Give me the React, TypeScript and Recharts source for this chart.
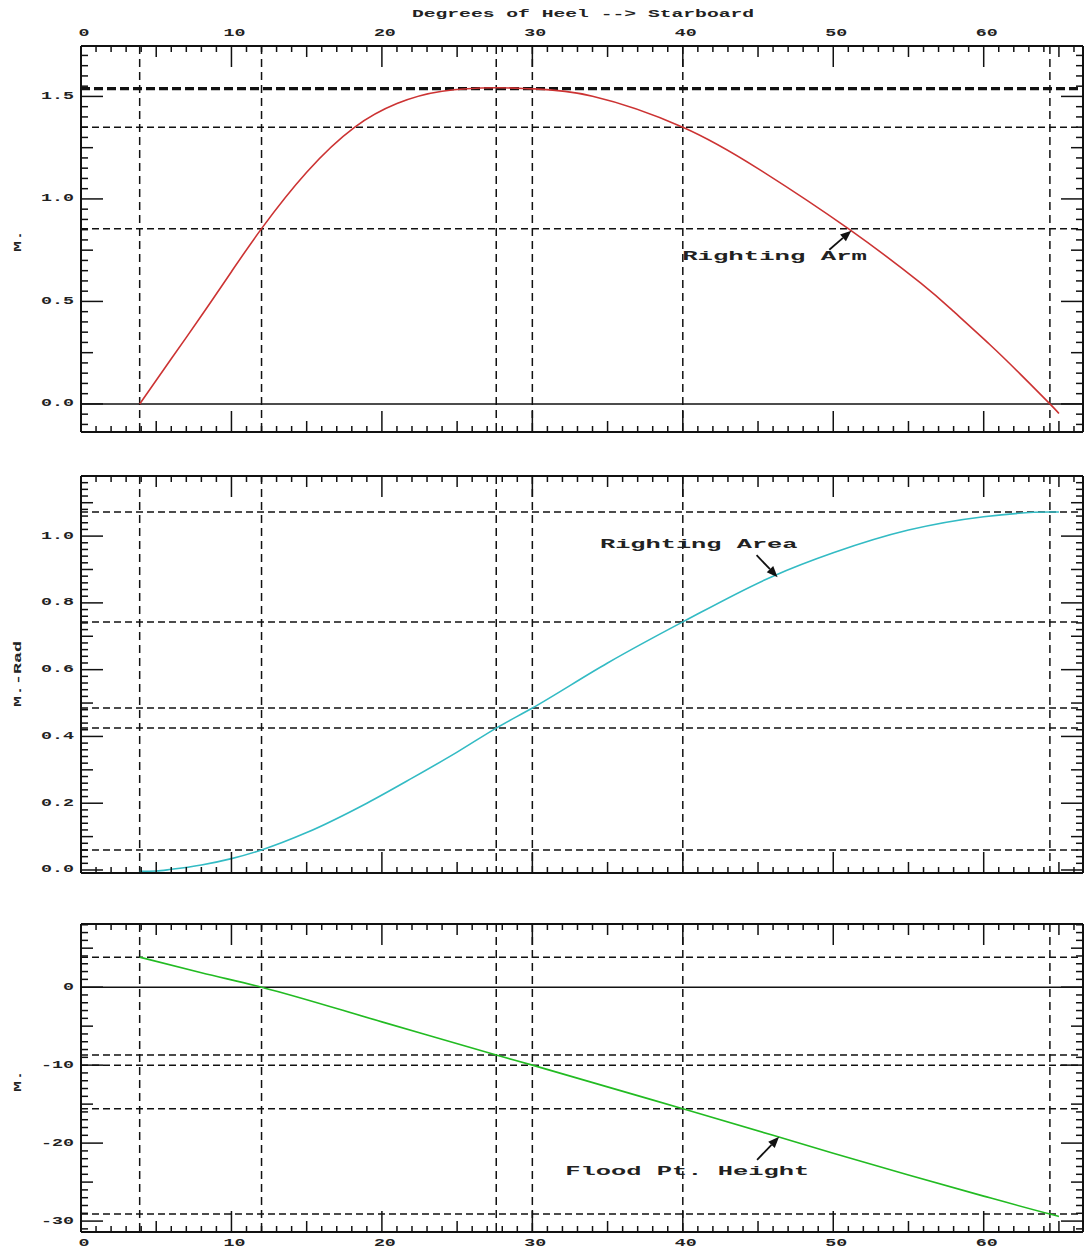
import React from "react";
import { LineChart, Line, XAxis, YAxis, ReferenceLine, ReferenceDot } from "recharts";

const FONT = "'Liberation Mono', 'DejaVu Sans Mono', monospace";
const W = 1086;
const H = 1251;

const X_DOMAIN: [number, number] = [0, 66.6];
const X_TICKS = Array.from({ length: 67 }, (_, i) => i);

// heel angles with dashed guide lines
const keyDeg = [3.9, 12, 27.6, 30, 40, 64.4];

// righting arm (m)
const armDeg = [3.9, 6, 8, 10, 12, 15, 18.2, 21, 24, 27.6, 30, 34, 40, 45, 51, 55.8, 58, 60.4, 62.4, 64.4, 65];
const armVal = [0, 0.22, 0.43, 0.645, 0.855, 1.13, 1.35, 1.465, 1.525, 1.542, 1.537, 1.501, 1.35, 1.148, 0.855, 0.59, 0.451, 0.29, 0.148, 0, -0.047];
const armGuides = [1.35, 0.855];
const armBold = [1.538];

// righting area (m-rad)
const areaDeg = [3.9, 5, 6, 8, 10, 12, 15, 19, 22, 25, 27.6, 30, 35, 40, 46, 50, 55, 60, 64.4, 65];
const areaVal = [-0.004, -0.003, 0.002, 0.015, 0.034, 0.06, 0.112, 0.2, 0.275, 0.353, 0.425, 0.485, 0.62, 0.743, 0.88, 0.95, 1.018, 1.058, 1.072, 1.072];
const areaGuides = [1.072, 0.743, 0.485, 0.425, 0.06];

// flood point height (m)
const floodDeg = [3.9, 8, 12, 20, 27.6, 30, 40, 46, 50, 55, 60, 64.4, 65];
const floodVal = [3.85, 1.85, 0, -4.45, -8.7, -10, -15.6, -19.0, -21.3, -24.1, -26.8, -29.1, -29.4];
const floodGuides = [3.85, -8.7, -10, -15.6, -29.1];

const toRows = (d: number[], v: number[]) => d.map((deg, i) => ({ deg, v: v[i] }));

function Txt({ x, y, s, size = 10, cw = 11, anchor = "middle", rot }: any) {
  return (
    <text
      x={x}
      y={y}
      fontFamily={FONT}
      fontWeight="bold"
      fontSize={size}
      fill="#222"
      textAnchor={anchor}
      dominantBaseline="central"
      textLength={s.length * cw}
      lengthAdjust="spacingAndGlyphs"
      transform={rot ? `rotate(${rot} ${x} ${y})` : undefined}
    >
      {s}
    </text>
  );
}

const xLen = (v: number) => {
  const k = Math.round(v);
  return k % 10 === 0 ? 21 : k % 5 === 0 ? 11 : 6;
};

type Note = { deg: number; v: number; text: string; cw: number; headDeg: number; headV: number; dx: number; dy: number };

type PanelProps = {
  top: number;
  height: number;
  padTop: number;
  padBottom: number;
  rows: { deg: number; v: number }[];
  color: string;
  curve: "monotone" | "natural";
  yDomain: [number, number];
  yStep: number;
  kMin: number;
  kMax: number;
  yFmt: (v: number) => string;
  guides: number[];
  bold?: number[];
  solid: number[];
  topLabels?: boolean;
  bottomLabels?: boolean;
  note: Note;
};

function Panel(p: PanelProps) {
  const yTicks = [];
  for (let k = p.kMin; k <= p.kMax; k++) yTicks.push(Math.round(k * p.yStep * 1000) / 1000);
  const yLen = (v: number) => {
    const k = Math.round(v / p.yStep);
    return k % 10 === 0 ? 22 : k % 5 === 0 ? 12 : 7;
  };
  const isMajorY = (v: number) => Math.round(v / p.yStep) % 10 === 0;

  const leftTick = (t: any) => {
    const v = t.payload.value;
    return (
      <g>
        <line x1={t.x} y1={t.y} x2={t.x + yLen(v)} y2={t.y} stroke="#111" strokeWidth={1.5} />
        {isMajorY(v) && <Txt x={t.x - 7} y={t.y} s={p.yFmt(v)} anchor="end" />}
      </g>
    );
  };
  const rightTick = (t: any) => (
    <line x1={t.x} y1={t.y} x2={t.x - yLen(t.payload.value)} y2={t.y} stroke="#111" strokeWidth={1.5} />
  );
  const topTick = (t: any) => {
    const v = t.payload.value;
    return (
      <g>
        <line x1={t.x} y1={t.y} x2={t.x} y2={t.y + xLen(v)} stroke="#111" strokeWidth={1.5} />
        {p.topLabels && v % 10 === 0 && <Txt x={t.x + 3} y={t.y - 13} s={String(v)} />}
      </g>
    );
  };
  const bottomTick = (t: any) => {
    const v = t.payload.value;
    return (
      <g>
        <line x1={t.x} y1={t.y} x2={t.x} y2={t.y - xLen(v)} stroke="#111" strokeWidth={1.5} />
        {p.bottomLabels && v % 10 === 0 && <Txt x={t.x + 3} y={t.y + 11} s={String(v)} />}
      </g>
    );
  };

  const n = p.note;
  const arrow = (s: any) => {
    const tx = s.cx + n.dx;
    const ty = s.cy + n.dy;
    const len = Math.hypot(n.dx, n.dy);
    const ux = -n.dx / len;
    const uy = -n.dy / len;
    const bx = s.cx - ux * 11;
    const by = s.cy - uy * 11;
    return (
      <g>
        <line x1={tx} y1={ty} x2={bx} y2={by} stroke="#111" strokeWidth={1.8} />
        <polygon
          points={`${s.cx},${s.cy} ${bx - uy * 4.5},${by + ux * 4.5} ${bx + uy * 4.5},${by - ux * 4.5}`}
          fill="#111"
        />
      </g>
    );
  };

  return (
    <div style={{ position: "absolute", left: 0, top: p.top }}>
      <LineChart width={W} height={p.height} data={p.rows} margin={{ top: 0, right: 0, bottom: 0, left: 0 }}>
        <XAxis
          xAxisId="t"
          orientation="top"
          dataKey="deg"
          type="number"
          domain={X_DOMAIN}
          allowDataOverflow
          ticks={X_TICKS}
          interval={0}
          height={p.padTop}
          tickSize={0}
          tickMargin={0}
          tickLine={false}
          axisLine={{ stroke: "#111", strokeWidth: 2 }}
          tick={topTick}
        />
        <XAxis
          xAxisId="b"
          orientation="bottom"
          dataKey="deg"
          type="number"
          domain={X_DOMAIN}
          allowDataOverflow
          ticks={X_TICKS}
          interval={0}
          height={p.padBottom}
          tickSize={0}
          tickMargin={0}
          tickLine={false}
          axisLine={{ stroke: "#111", strokeWidth: 2 }}
          tick={bottomTick}
        />
        <YAxis
          yAxisId="l"
          orientation="left"
          type="number"
          domain={p.yDomain}
          allowDataOverflow
          ticks={yTicks}
          interval={0}
          width={81}
          tickSize={0}
          tickMargin={0}
          tickLine={false}
          axisLine={{ stroke: "#111", strokeWidth: 2 }}
          tick={leftTick}
        />
        <YAxis
          yAxisId="r"
          orientation="right"
          type="number"
          domain={p.yDomain}
          allowDataOverflow
          ticks={yTicks}
          interval={0}
          width={3}
          tickSize={0}
          tickMargin={0}
          tickLine={false}
          axisLine={{ stroke: "#111", strokeWidth: 2 }}
          tick={rightTick}
        />
        {p.solid.map((v) => (
          <ReferenceLine key={"s" + v} xAxisId="t" yAxisId="l" y={v} stroke="#111" strokeWidth={1.5} />
        ))}
        {(p.bold || []).map((v) => (
          <ReferenceLine key={"b" + v} xAxisId="t" yAxisId="l" y={v} stroke="#111" strokeWidth={3.2} strokeDasharray="9 4" />
        ))}
        {p.guides.map((v) => (
          <ReferenceLine key={"h" + v} xAxisId="t" yAxisId="l" y={v} stroke="#111" strokeWidth={1.5} strokeDasharray="7 4" />
        ))}
        {keyDeg.map((d) => (
          <ReferenceLine key={"v" + d} xAxisId="t" yAxisId="l" x={d} stroke="#111" strokeWidth={1.5} strokeDasharray="8 5" />
        ))}
        <Line
          xAxisId="t"
          yAxisId="l"
          dataKey="v"
          type={p.curve}
          stroke={p.color}
          strokeWidth={1.6}
          dot={false}
          isAnimationActive={false}
        />
        <ReferenceDot
          xAxisId="t"
          yAxisId="l"
          x={n.deg}
          y={n.v}
          r={1}
          shape={(s: any) => <Txt x={s.cx} y={s.cy} s={n.text} size={13} cw={n.cw} />}
        />
        <ReferenceDot xAxisId="t" yAxisId="l" x={n.headDeg} y={n.headV} r={1} shape={arrow} />
      </LineChart>
    </div>
  );
}

export default function App() {
  return (
    <div style={{ position: "absolute", left: 0, top: 0, width: W, height: H, background: "#fff" }}>
      <Panel
        top={0}
        height={445}
        padTop={46}
        padBottom={13}
        rows={toRows(armDeg, armVal)}
        color="#cc3333"
        curve="natural"
        yDomain={[-0.137, 1.746]}
        yStep={0.05}
        kMin={-2}
        kMax={34}
        yFmt={(v) => v.toFixed(1)}
        guides={armGuides}
        bold={armBold}
        solid={[0]}
        topLabels
        note={{ deg: 46.1, v: 0.72, text: "Righting Arm", cw: 15.4, headDeg: 51.2, headV: 0.845, dx: -22, dy: 19 }}
      />
      <Panel
        top={445}
        height={440}
        padTop={31}
        padBottom={12}
        rows={toRows(areaDeg, areaVal)}
        color="#33bbc4"
        curve="monotone"
        yDomain={[-0.009, 1.18]}
        yStep={0.02}
        kMin={0}
        kMax={59}
        yFmt={(v) => v.toFixed(1)}
        guides={areaGuides}
        solid={[]}
        note={{ deg: 41.06, v: 0.976, text: "Righting Area", cw: 15.2, headDeg: 46.3, headV: 0.877, dx: -21, dy: -22 }}
      />
      <Panel
        top={885}
        height={366}
        padTop={39}
        padBottom={19}
        rows={toRows(floodDeg, floodVal)}
        color="#22bb22"
        curve="monotone"
        yDomain={[-31.4, 8.1]}
        yStep={1}
        kMin={-31}
        kMax={8}
        yFmt={(v) => String(v)}
        guides={floodGuides}
        solid={[0]}
        bottomLabels
        note={{ deg: 40.3, v: -23.7, text: "Flood Pt. Height", cw: 15.25, headDeg: 46.4, headV: -19.2, dx: -22, dy: 23 }}
      />
      <svg width={W} height={H} style={{ position: "absolute", left: 0, top: 0, pointerEvents: "none" }}>
        <Txt x={583} y={14} s="Degrees of Heel --> Starboard" cw={11.8} />
        <Txt x={18} y={241} s="M." rot={-90} />
        <Txt x={18} y={674} s="M.-Rad" rot={-90} />
        <Txt x={18} y={1081} s="M." rot={-90} />
      </svg>
    </div>
  );
}
